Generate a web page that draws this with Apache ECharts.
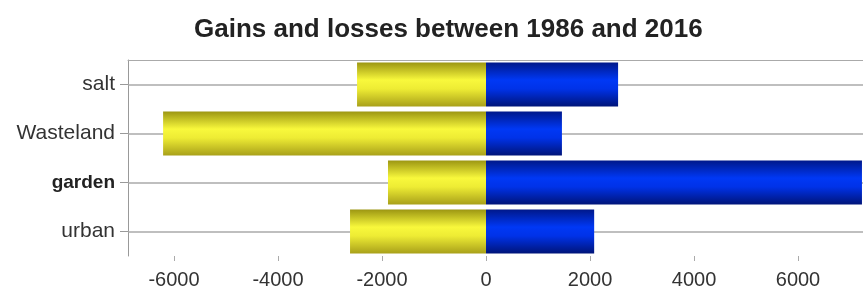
<!DOCTYPE html>
<html>
<head>
<meta charset="utf-8">
<script src="https://cdn.jsdelivr.net/npm/echarts@6/dist/echarts.min.js"></script>
<style>
  html, body { margin: 0; padding: 0; background: #fff; }
  #chart { width: 863px; height: 291px; }
</style>
</head>
<body>
<div id="chart"></div>
<script>
// categories, top to bottom
var categories = ['salt', 'Wasteland', 'garden', 'urban'];
var losses = [-2480, -6210, -1885, -2615];
var gains = [2540, 1460, 7230, 2080];
var xTicks = [-6000, -4000, -2000, 0, 2000, 4000, 6000];
var boldCategory = 'garden';

var font = 'Liberation Sans, Arial, sans-serif';

var yellowFill = new echarts.graphic.LinearGradient(0, 0, 0, 1, [
    { offset: 0, color: '#9c9612' },
    { offset: 0.4, color: '#f8f83c' },
    { offset: 0.6, color: '#eeec34' },
    { offset: 1, color: '#a8a01a' }
]);
var blueFill = new echarts.graphic.LinearGradient(0, 0, 0, 1, [
    { offset: 0, color: '#00188a' },
    { offset: 0.4, color: '#0038f5' },
    { offset: 0.6, color: '#0032e8' },
    { offset: 1, color: '#001478' }
]);

var myChart = echarts.init(document.getElementById('chart'));
myChart.setOption({
    animation: false,
    title: {
        text: 'Gains and losses between 1986 and 2016',
        left: 189,
        top: 12,
        textStyle: { fontFamily: font, fontSize: 26, fontWeight: 'bold', color: '#222' }
    },
    grid: { left: 128, right: 0, top: 60, bottom: 35 },
    xAxis: [{
        type: 'value',
        min: -6885,
        max: 7250,
        axisLine: { show: false },
        axisTick: { show: true, length: 5, customValues: xTicks, lineStyle: { color: '#aaa' } },
        axisLabel: {
            margin: 14,
            customValues: xTicks,
            fontFamily: font, fontSize: 20, color: '#333',
            formatter: function (v) { return String(v); }
        },
        splitLine: { show: false }
    }, {
        type: 'value',
        position: 'top',
        min: -6885,
        max: 7250,
        axisLine: { show: true, onZero: false, lineStyle: { color: '#aaa', width: 1 } },
        axisTick: { show: false },
        axisLabel: { show: false },
        splitLine: { show: false }
    }],
    yAxis: {
        type: 'category',
        data: categories,
        inverse: true,
        axisLine: { show: true, onZero: false, lineStyle: { color: '#999' } },
        axisTick: { show: true, alignWithLabel: true, length: 8, lineStyle: { color: '#999' } },
        axisLabel: {
            margin: 13,
            fontFamily: font, fontSize: 21, color: '#333',
            formatter: function (v) {
                return v === boldCategory ? '{b|' + v + '}' : v;
            },
            rich: { b: { fontFamily: font, fontSize: 19, fontWeight: 'bold', color: '#222' } }
        },
        splitLine: { show: false }
    },
    series: [{
        name: 'losses',
        type: 'bar',
        xAxisIndex: 0,
        data: losses,
        barCategoryGap: '10%',
        barGap: '-100%',
        z: 3,
        itemStyle: { color: yellowFill },
        markLine: {
            silent: true,
            symbol: 'none',
            z: 1,
            label: { show: false },
            lineStyle: { color: '#aaa', width: 1.5, type: 'solid' },
            data: categories.map(function (c) { return { yAxis: c }; })
        }
    }, {
        name: 'gains',
        type: 'bar',
        xAxisIndex: 0,
        data: gains,
        barCategoryGap: '10%',
        barGap: '-100%',
        z: 3,
        itemStyle: { color: blueFill }
    }]
});
</script>
</body>
</html>
